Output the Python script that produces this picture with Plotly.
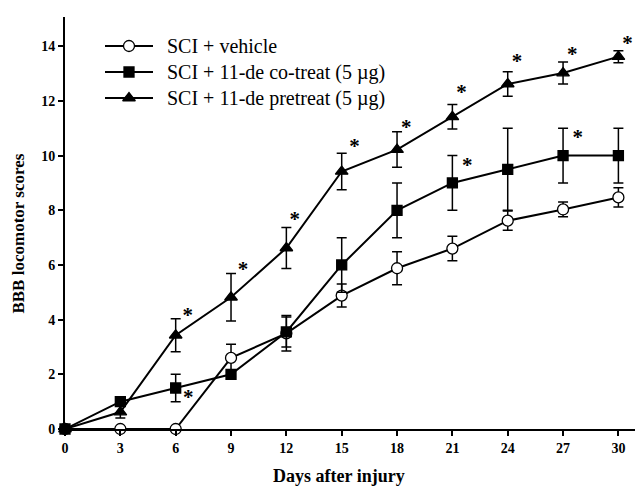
import plotly.graph_objects as go

days = [0, 3, 6, 9, 12, 15, 18, 21, 24, 27, 30]

vehicle = [0, 0, 0, 2.6, 3.5, 4.88, 5.88, 6.6, 7.62, 8.03, 8.47]
vehicle_err = [0, 0, 0, 0.5, 0.65, 0.42, 0.6, 0.45, 0.35, 0.27, 0.35]

cotreat = [0, 1.0, 1.5, 2.0, 3.55, 6.0, 8.0, 9.0, 9.5, 10.0, 10.0]
cotreat_err = [0, 0.1, 0.5, 0.1, 0.55, 1.0, 1.0, 1.0, 1.5, 1.0, 1.0]

pretreat = [0, 0.62, 3.43, 4.82, 6.62, 9.42, 10.22, 11.42, 12.62, 13.02, 13.62]
pretreat_err = [0, 0.22, 0.6, 0.87, 0.75, 0.67, 0.65, 0.45, 0.45, 0.4, 0.22]

# significance asterisks (day, score level)
star_days = [6.65, 9.65, 12.45, 15.7, 18.5, 21.5, 24.5, 27.5, 30.5, 6.68, 21.8, 27.8]
star_y = [4.1, 5.8, 7.6, 10.3, 11.0, 12.25, 13.4, 13.65, 14.05, 1.1, 9.6, 10.62]

names = ["SCI + vehicle", "SCI + 11-de co-treat (5 \u00b5g)", "SCI + 11-de pretreat (5 \u00b5g)"]
x_title = "Days after injury"
y_title = "BBB locomotor scores"

serif = "Liberation Serif"

# figure geometry (pixels)
W, H = 636, 486
L, R, T, B = 65, 1, 17, 57

fig = go.Figure()

symbols = ["circle", "square", "triangle-up"]
fills = ["white", "black", "black"]
sizes = [11, 10, 11]

def add_series(y, err, i):
    fig.add_trace(go.Scatter(
        x=days, y=y, name=names[i], mode="lines+markers",
        line=dict(color="black", width=2),
        marker=dict(symbol=symbols[i], size=sizes[i], color=fills[i],
                    line=dict(color="black", width=1.3)),
        error_y=dict(type="data", array=err, visible=True,
                     color="black", thickness=1.5, width=5),
        cliponaxis=False, showlegend=False,
    ))

add_series(vehicle, vehicle_err, 0)
add_series(cotreat, cotreat_err, 1)
add_series(pretreat, pretreat_err, 2)

fig.add_trace(go.Scatter(
    x=star_days, y=star_y, mode="text", text=["*"] * len(star_days),
    textfont=dict(family=serif, size=21, color="black", weight="bold"),
    showlegend=False, cliponaxis=False, hoverinfo="skip",
))

# legend drawn on an overlay axis expressed in page pixels
leg_x0, leg_x1, leg_text_x = 105, 153, 165
leg_rows = [46, 72, 98]
annotations = []
for i in range(3):
    yy = leg_rows[i]
    fig.add_trace(go.Scatter(
        x=[leg_x0, leg_x1], y=[yy, yy], mode="lines",
        line=dict(color="black", width=2), xaxis="x2", yaxis="y2",
        showlegend=False, hoverinfo="skip", cliponaxis=False,
    ))
    fig.add_trace(go.Scatter(
        x=[(leg_x0 + leg_x1) / 2], y=[yy], mode="markers",
        marker=dict(symbol=symbols[i], size=sizes[i], color=fills[i],
                    line=dict(color="black", width=1.3)),
        xaxis="x2", yaxis="y2", showlegend=False, hoverinfo="skip",
        cliponaxis=False,
    ))
    annotations.append(dict(
        text=names[i], x=leg_text_x, y=yy, xref="x2", yref="y2",
        xanchor="left", yanchor="middle", showarrow=False,
        font=dict(family=serif, size=20, color="black"),
    ))

annotations += [
    dict(text=x_title, xref="paper", yref="paper", x=0.48, y=-0.115,
         xanchor="center", yanchor="middle", showarrow=False,
         font=dict(family=serif, size=18, color="black", weight="bold")),
    dict(text=y_title, xref="paper", yref="paper", x=-0.082, y=0.475,
         xanchor="center", yanchor="middle", showarrow=False, textangle=-90,
         font=dict(family=serif, size=17, color="black", weight="bold")),
]

axis_common = dict(
    automargin=False,
    showline=True, linecolor="black", linewidth=2,
    ticks="outside", ticklen=5, tickwidth=1.5, tickcolor="black",
    showgrid=False, zeroline=False,
    tickfont=dict(family=serif, size=14, color="black", weight="bold"),
)

fig.update_layout(
    template="none",
    width=W, height=H,
    margin=dict(l=L, r=R, t=T, b=B, autoexpand=False),
    paper_bgcolor="white", plot_bgcolor="white",
    showlegend=False,
    font=dict(family=serif, color="black"),
    annotations=annotations,
    xaxis=dict(range=[0, 30.9], tickmode="array", tickvals=days,
               ticktext=[str(d) for d in days], **axis_common),
    yaxis=dict(range=[0, 15.07], tickmode="array",
               tickvals=[0, 2, 4, 6, 8, 10, 12, 14], **axis_common),
    xaxis2=dict(overlaying="x", range=[L, W - R], visible=False,
                automargin=False, fixedrange=True),
    yaxis2=dict(overlaying="y", range=[H - B, T], visible=False,
                automargin=False, fixedrange=True),
)

fig.write_html("out.html", config={"displayModeBar": False},
               post_script="document.body.style.margin='0';")
